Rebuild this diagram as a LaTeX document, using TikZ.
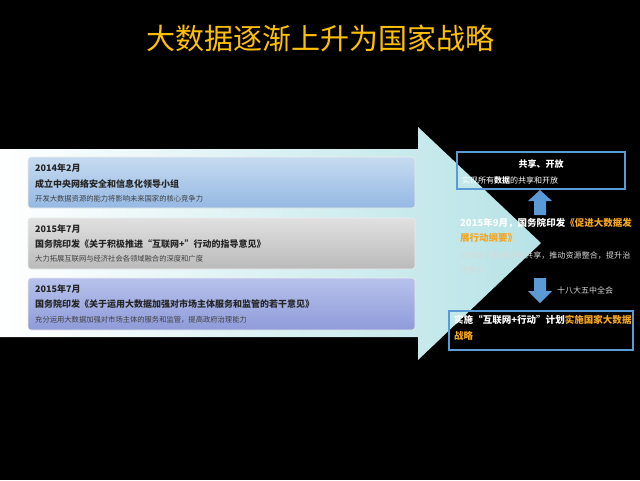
\documentclass[tikz,border=0pt]{standalone}
\usepackage{fontspec}
\setmainfont{Noto Sans CJK SC}
\XeTeXlinebreaklocale "zh"
\XeTeXlinebreakskip = 0pt plus 1pt
\usetikzlibrary{positioning}
\definecolor{titlegold}{HTML}{FFC000}
\definecolor{bandcyan}{HTML}{B7E3E6}
\definecolor{frameblue}{HTML}{5B9BD5}
\definecolor{hiorange}{HTML}{F5A623}
\definecolor{boxonetop}{HTML}{C6DBF0}
\definecolor{boxonebot}{HTML}{95B8E3}
\definecolor{boxthreetop}{HTML}{B8C2EC}
\definecolor{boxthreebot}{HTML}{8E9BD9}

\begin{document}
\begin{tikzpicture}[x=1pt,y=-1pt, every node/.style={inner sep=0pt}]
\tikzset{
  itembox/.style={rounded corners=3pt, draw=white!85!gray, line width=0.6pt},
  headtext/.style={anchor=west, font=\bfseries\fontsize{9}{10}\selectfont, text=black!85},
  subtext/.style={anchor=west, font=\fontsize{7.3}{8}\selectfont, text=black!75},
  sidebox/.style={draw=frameblue, line width=1.8pt},
  blockarrow/.style={fill=frameblue}
}
% Background
\fill [black] (0,0) rectangle (640,480);
\useasboundingbox (0,0) rectangle (640,480);

% Title
\node (title) [text=titlegold, font=\fontsize{29}{32}\selectfont] at (320,38) {大数据逐渐上升为国家战略};

% Big arrow
\shade [left color=white, right color=bandcyan] (0,149) -- (418,149) -- (418,127) -- (541,243) -- (418,360) -- (418,337) -- (0,337) -- cycle;

% Left items
\shade [itembox, top color=boxonetop, bottom color=boxonebot] (28,157) rectangle (415,208);
\node (d1) [headtext] at (35,168) {2014年2月};
\node (h1) [headtext] at (35,184) {成立中央网络安全和信息化领导小组};
\node (s1) [subtext] at (35,199) {开发大数据资源的能力将影响未来国家的核心竞争力};

\shade [itembox, top color=black!12, bottom color=black!27] (28,218) rectangle (415,269);
\node (d2) [headtext] at (35,229) {2015年7月};
\node (h2) [headtext] at (35,244) {国务院印发《关于积极推进“互联网+”行动的指导意见》};
\node (s2) [subtext] at (35,259) {大力拓展互联网与经济社会各领域融合的深度和广度};

\shade [itembox, top color=boxthreetop, bottom color=boxthreebot] (28,278) rectangle (415,330);
\node (d3) [headtext] at (35,289) {2015年7月};
\node (h3) [headtext] at (35,304) {国务院印发《关于运用大数据加强对市场主体服务和监管的若干意见》};
\node (s3) [subtext] at (35,320) {充分运用大数据加强对市场主体的服务和监管，提高政府治理能力};

% Right side
\draw [sidebox] (457,152) rectangle (625,189);
\node (share) [font=\bfseries\fontsize{9}{10}\selectfont, text=white] at (541,164) {共享、开放};
\node (sharesub) [anchor=west, font=\fontsize{8}{9}\selectfont, text=white] at (462,180) {实现所有\textbf{数据}的共享和开放};

\fill [blockarrow] (534,215) -- (534,201) -- (528,201) -- (540,190) -- (552,201) -- (546,201) -- (546,215) -- cycle;

\node (plan) [anchor=north west, align=left, text width=172pt, font=\bfseries\fontsize{9.5}{15}\selectfont, text=white] at (460,218)
  {2015年9月，国务院印发\textcolor{hiorange}{《促进大数据发展行动纲要》}};
\node (plansub) [anchor=north west, align=left, text width=172pt, font=\fontsize{8}{14}\selectfont, text=white!85!black] at (460,251)
  {加快政府数据开放共享，推动资源整合，提升治理能力};

\fill [blockarrow] (534,278) -- (546,278) -- (546,291) -- (552,291) -- (540,303) -- (528,291) -- (534,291) -- cycle;
\node (plenum) [anchor=north west, align=left, text width=62pt, font=\fontsize{8}{15}\selectfont, text=white!85!black] at (557,286) {十八大五中全会};

\draw [sidebox] (449,311) rectangle (633,350);
\node (goal) [anchor=north west, align=left, text width=178pt, font=\bfseries\fontsize{9.5}{16}\selectfont, text=white] at (454,315)
  {实施“互联网+行动”计划\textcolor{hiorange}{实施国家大数据战略}};
\end{tikzpicture}
\end{document}
